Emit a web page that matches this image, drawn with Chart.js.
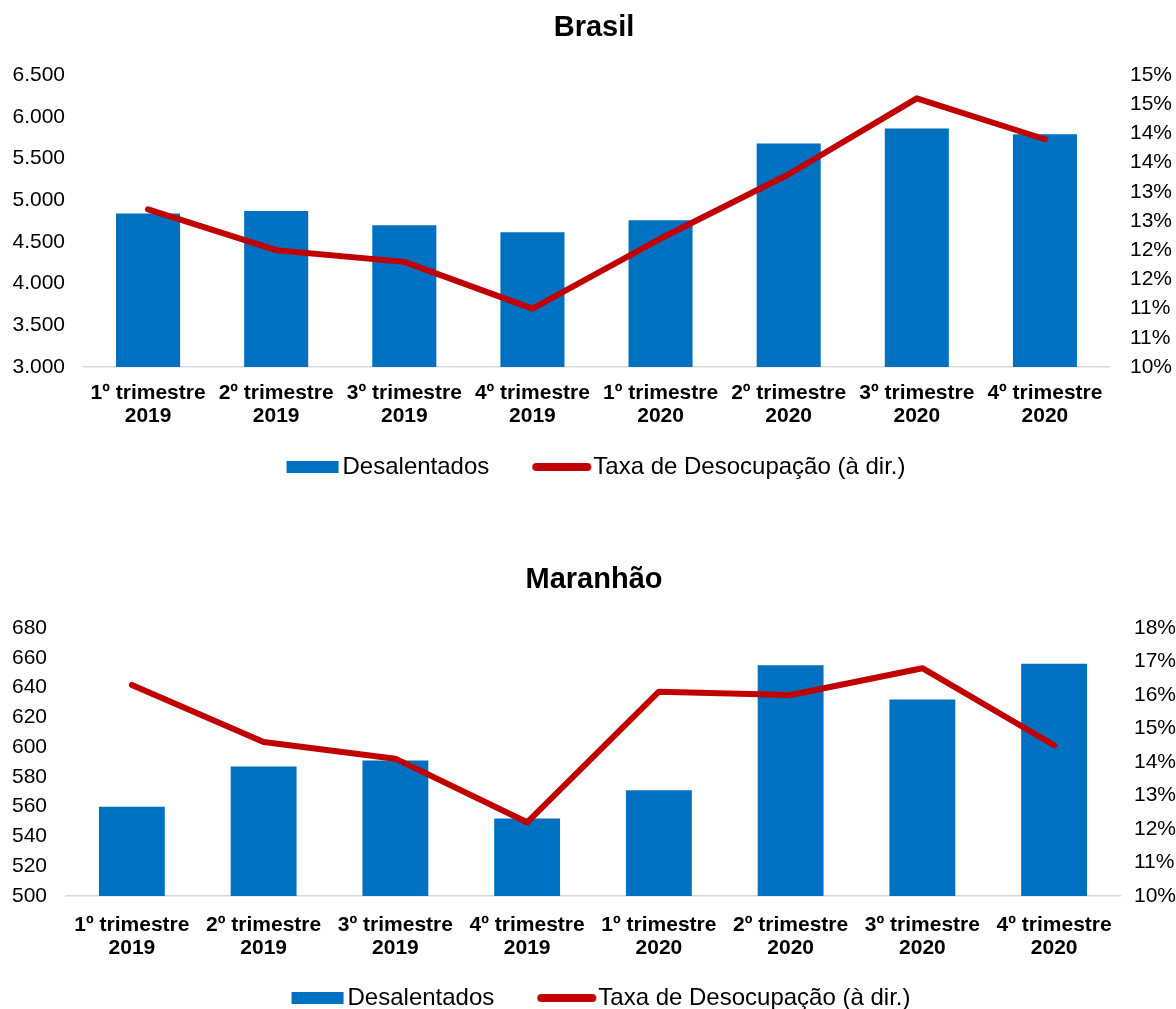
<!DOCTYPE html>
<html lang="pt-BR">
<head>
<meta charset="utf-8">
<title>Desalentados e Taxa de Desocupação</title>
<script src="https://cdn.jsdelivr.net/npm/chart.js@4.4.1/dist/chart.umd.min.js"></script>
<style>
  html, body { margin: 0; padding: 0; background: #fff; overflow: hidden; }
  .box { position: absolute; left: 0; width: 1176px; }
  #brasil { top: 0; height: 489px; }
  #maranhao { top: 545px; height: 475px; }
</style>
</head>
<body>
<div class="box" id="brasil"><canvas id="cBrasil"></canvas></div>
<div class="box" id="maranhao"><canvas id="cMaranhao"></canvas></div>
<script>
// Quarters shown on the horizontal axis (two-line labels)
const categories = [
  ['1º trimestre', '2019'], ['2º trimestre', '2019'], ['3º trimestre', '2019'], ['4º trimestre', '2019'],
  ['1º trimestre', '2020'], ['2º trimestre', '2020'], ['3º trimestre', '2020'], ['4º trimestre', '2020']
];

// Brasil: discouraged workers (thousands) and unemployment rate (%)
const brasilDesalentados = [4840, 4870, 4700, 4615, 4760, 5680, 5860, 5790];
const brasilTaxa = [12.7, 12.0, 11.8, 11.0, 12.2, 13.3, 14.6, 13.9];

// Maranhão: discouraged workers (thousands) and unemployment rate (%)
const maranhaoDesalentados = [560, 587, 591, 552, 571, 655, 632, 656];
const maranhaoTaxa = [16.3, 14.6, 14.1, 12.2, 16.1, 16.0, 16.8, 14.5];

// Axis ranges
const brasilLeftAxis = { min: 3000, max: 6500, step: 500 };
const brasilRightAxis = { min: 10, max: 15, step: 0.5 };
const maranhaoLeftAxis = { min: 500, max: 680, step: 20 };
const maranhaoRightAxis = { min: 10, max: 18, step: 1 };

const seriesNames = ['Desalentados', 'Taxa de Desocupação (à dir.)'];

const FONT = "'Liberation Sans', Arial, Helvetica, sans-serif";
Chart.defaults.font.family = FONT;
Chart.defaults.color = '#000';

const BLUE = '#0070C0';
const RED = '#C00000';

// Thousands separator in Brazilian style: 6500 -> "6.500"
function fmtThousands(v) {
  return String(Math.round(v)).replace(/\B(?=(\d{3})+(?!\d))/g, '.');
}

// Legend swatches. The legend box is 82px wide; the swatch is drawn in its
// right-hand part so it sits just before the text, leaving room between items.
const LEGEND_BOX = 82;
function legendSwatch(kind) {
  const c = document.createElement('canvas');
  c.width = 104;
  c.height = 16;
  const g = c.getContext('2d');
  if (kind === 'rect') {
    g.fillStyle = BLUE;
    g.fillRect(49, 2, 52, 12);
  } else {
    g.strokeStyle = RED;
    g.lineWidth = 8;
    g.lineCap = 'round';
    g.beginPath();
    g.moveTo(48, 8);
    g.lineTo(99, 8);
    g.stroke();
  }
  return c;
}
const swatches = [legendSwatch('rect'), legendSwatch('line')];

function legendLabels(chart) {
  const items = Chart.defaults.plugins.legend.labels.generateLabels(chart);
  items.forEach(it => {
    it.pointStyle = swatches[it.datasetIndex];
    it.lineWidth = 0;
  });
  return items.sort((a, b) => a.datasetIndex - b.datasetIndex);
}

// Moves the legend horizontally after layout, so the visible part is centred.
const legendShift = {
  id: 'legendShift',
  afterLayout(chart, args, opts) {
    const l = chart.legend;
    if (l && opts.dx) {
      l.left += opts.dx;
      l.right += opts.dx;
    }
  }
};

function makeChart(canvasId, cfg) {
  return new Chart(document.getElementById(canvasId), {
    data: {
      labels: categories,
      datasets: [
        {
          type: 'bar',
          label: seriesNames[0],
          data: cfg.bars,
          backgroundColor: BLUE,
          borderWidth: 0,
          barPercentage: 0.5,
          categoryPercentage: 1,
          yAxisID: 'yL',
          order: 1
        },
        {
          type: 'line',
          label: seriesNames[1],
          data: cfg.rate,
          borderColor: RED,
          backgroundColor: RED,
          borderWidth: 6,
          borderCapStyle: 'round',
          borderJoinStyle: 'round',
          tension: 0,
          pointRadius: 0,
          pointHoverRadius: 0,
          yAxisID: 'yR',
          order: 0
        }
      ]
    },
    plugins: [legendShift],
    options: {
      responsive: true,
      maintainAspectRatio: false,
      devicePixelRatio: 1,
      animation: false,
      layout: { padding: { left: 12 } },
      plugins: {
        legendShift: { dx: cfg.legendDx },
        title: {
          display: true,
          text: cfg.title,
          font: { size: 29, weight: 'bold', lineHeight: 1.2 },
          color: '#000',
          padding: { top: cfg.titleTop, bottom: cfg.titleBottom }
        },
        legend: {
          position: 'bottom',
          labels: {
            usePointStyle: true,
            pointStyleWidth: LEGEND_BOX,
            boxHeight: 12,
            padding: 10,
            font: { size: 24 },
            color: '#000',
            generateLabels: legendLabels
          }
        },
        tooltip: { enabled: false }
      },
      scales: {
        x: {
          grid: { display: false, drawTicks: false },
          border: { display: true, color: '#d9d9d9', width: 1.5 },
          ticks: {
            font: { size: 21, weight: 'bold', lineHeight: 1.1 },
            color: '#000',
            padding: cfg.xPad,
            maxRotation: 0,
            autoSkip: false
          },
          afterFit: s => { s.height = cfg.xHeight; }
        },
        yL: {
          position: 'left',
          min: cfg.left.min,
          max: cfg.left.max,
          grid: { display: false, drawTicks: false },
          border: { display: false },
          ticks: {
            stepSize: cfg.left.step,
            font: { size: 21 },
            color: '#000',
            padding: 19,
            callback: v => fmtThousands(v)
          },
          afterFit: s => { s.width = cfg.leftWidth; }
        },
        yR: {
          position: 'right',
          min: cfg.right.min,
          max: cfg.right.max,
          grid: { display: false, drawTicks: false },
          border: { display: false },
          ticks: {
            stepSize: cfg.right.step,
            font: { size: 21 },
            color: '#000',
            padding: cfg.rightPad,
            callback: v => Math.round(v) + '%'
          },
          afterFit: s => { s.width = cfg.rightWidth; }
        }
      }
    }
  });
}

makeChart('cBrasil', {
  title: 'Brasil',
  bars: brasilDesalentados,
  rate: brasilTaxa,
  left: brasilLeftAxis,
  right: brasilRightAxis,
  titleTop: 10.6,
  titleBottom: 29.6,
  xPad: 14.5,
  xHeight: 78,
  leftWidth: 72,
  rightWidth: 67,
  rightPad: 21,
  legendDx: -17
});

makeChart('cMaranhao', {
  title: 'Maranhão',
  bars: maranhaoDesalentados,
  rate: maranhaoTaxa,
  left: maranhaoLeftAxis,
  right: maranhaoRightAxis,
  titleTop: 17.6,
  titleBottom: 30.6,
  xPad: 17.5,
  xHeight: 80,
  leftWidth: 54,
  rightWidth: 56,
  rightPad: 14,
  legendDx: -12
});
</script>
</body>
</html>
